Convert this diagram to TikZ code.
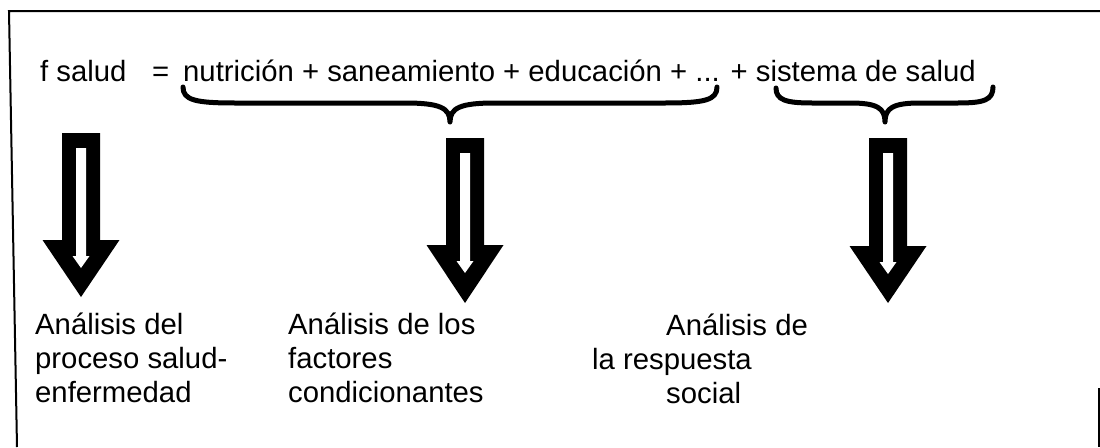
\documentclass[tikz,border=0pt]{standalone}
\usepackage{fontspec}
\setmainfont{Liberation Sans}
\newcommand\blockarrow[4]{%
  \fill[black] (#1-19,#2) -- (#1+19,#2) -- (#1+19,#3) -- (#1+38.5,#3) -- (#1,#4)
     -- (#1-38.5,#3) -- (#1-19,#3) -- cycle;
  \fill[white] (#1-5,#2+15) -- (#1+5,#2+15) -- (#1+5,#3+16) -- (#1+8.5,#3+16) -- (#1,#3+28)
     -- (#1-8.5,#3+16) -- (#1-5,#3+16) -- cycle;}
\begin{document}
\begin{tikzpicture}[x=1pt,y=-1pt,
  txt/.style={anchor=base west,inner sep=0pt,font=\fontsize{29.3}{34}\selectfont},
  lbl/.style={anchor=north west,inner sep=0pt,align=left,font=\fontsize{29.3}{34}\selectfont},
  brace/.style={line width=5pt,line cap=round,line join=round},
  frame/.style={line width=2pt}]
\useasboundingbox (0,0) rectangle (1100,447);
% frame
\coordinate (f1) at (9,11);
\coordinate (f2) at (1100,11);
\coordinate (f3) at (17,447);
\coordinate (f4) at (1099,388);
\coordinate (f5) at (1099,447);
\draw[frame] (f2) -- (f1) -- (f3);
\draw[frame] (f4) -- (f5);
% equation
\node[txt] (fs) at (40,81) {f salud};
\node[txt] (eq) at (152,81) {=};
\node[txt] (terms) at (183,81) {nutrición + saneamiento + educación + ... + sistema de salud};
% braces
\draw[brace] (183,87) .. controls (183,100) and (195,103) .. (235,103) -- (405,103)
  .. controls (440,103) and (450,108) .. (450,122)
  .. controls (450,108) and (460,103) .. (495,103) -- (665,103)
  .. controls (705,103) and (717,100) .. (717,87);
\draw[brace] (776,88) .. controls (776,100) and (786,103) .. (812,103) -- (850,103)
  .. controls (877,103) and (885,108) .. (885,122)
  .. controls (885,108) and (893,103) .. (920,103) -- (958,103)
  .. controls (984,103) and (993,100) .. (993,87);
% arrows
\blockarrow{81}{133}{240}{297}
\blockarrow{465}{138}{245}{303}
\blockarrow{888}{138}{246}{303}
% labels
\node[lbl] (l1) at (35,313) {Análisis del\\proceso salud-\\enfermedad};
\node[lbl] (l2) at (288,313) {Análisis de los\\factores\\condicionantes};
\node[txt] (l3a) at (666,335) {Análisis de};
\node[txt] (l3b) at (592,369) {la respuesta};
\node[txt] (l3c) at (666,403) {social};
\end{tikzpicture}
\end{document}
